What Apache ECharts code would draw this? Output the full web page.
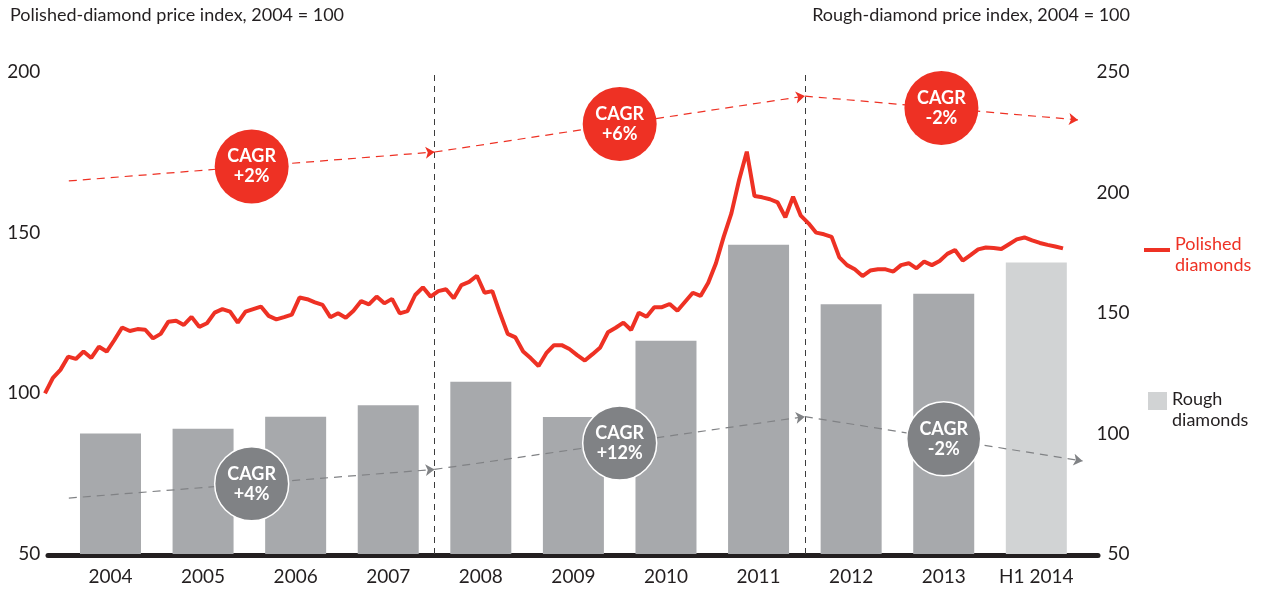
<!DOCTYPE html>
<html>
<head>
<meta charset="utf-8">
<title>Diamond price indices</title>
<script src="https://cdn.jsdelivr.net/npm/echarts@6/dist/echarts.min.js"></script>
<style>
  html, body { margin: 0; padding: 0; background: #fff; }
  #chart { width: 1266px; height: 589px; }
</style>
</head>
<body>
<div id="chart"></div>
<script>
// 年份 (柱形图类目)
var years = ['2004', '2005', '2006', '2007', '2008', '2009', '2010', '2011', '2012', '2013', 'H1 2014'];
// 毛坯钻石价格指数 (右轴)
var roughIndex = [100, 102, 107, 111.7, 121.5, 106.8, 138.5, 178.3, 153.6, 158, 171];
// 成品钻石价格指数 (左轴), 按月
var polishedIndex = [
  100.0, 104.7, 107.3, 111.4, 110.7, 113.0, 111.0, 114.5, 113.0, 116.6,
  120.5, 119.4, 120.0, 119.8, 117.1, 118.5, 122.3, 122.6, 121.3, 123.8,
  120.7, 121.8, 125.1, 126.2, 125.4, 122.0, 125.4, 126.2, 127.0, 124.1,
  123.0, 123.7, 124.5, 129.8, 129.3, 128.3, 127.5, 123.7, 124.9, 123.5,
  125.7, 128.7, 127.7, 130.1, 128.0, 129.4, 124.9, 125.6, 130.6, 133.0,
  130.1, 131.8, 132.4, 129.6, 133.7, 134.7, 136.6, 131.3, 131.8, 124.9,
  118.5, 117.4, 113.0, 110.9, 108.5, 112.5, 115.0, 115.0, 113.8, 111.9,
  110.2, 112.2, 114.3, 119.0, 120.4, 122.0, 119.7, 125.1, 123.8, 126.8,
  126.8, 127.8, 125.7, 128.5, 131.3, 130.3, 134.4, 140.5, 148.7, 156.0,
  166.4, 175.2, 161.4, 161.0, 160.4, 159.4, 154.8, 161.2, 155.3, 152.9,
  150.0, 149.5, 148.7, 142.3, 139.9, 138.6, 136.5, 138.2, 138.6, 138.6,
  137.9, 139.9, 140.5, 138.9, 141.0, 139.9, 141.2, 143.4, 144.6, 141.3,
  143.0, 144.8, 145.4, 145.2, 144.9, 146.4, 147.9, 148.5, 147.6, 146.8,
  146.2, 145.7, 145.1
];
// 趋势线端点 (x: 类目位置, y: 指数)
var polishedTrend = [[-0.45, 166.1], [3.5, 175.1], [7.5, 192.5], [10.45, 185.1]];
var roughTrend = [[-0.45, 73.2], [3.5, 85.1], [7.5, 107], [10.5, 88.6]];
var polishedCagr = ['+2%', '+6%', '-2%'];
var roughCagr = ['+4%', '+12%', '-2%'];
var periodBreaks = [3.5, 7.5];
var leftTicks = [50, 200, 50];   // min, max, interval
var rightTicks = [50, 250, 50];

var RED = '#ee3124';
var GREY = '#a7a9ac';
var LIGHT = '#d1d3d4';
var DARK = '#808285';
var INK = '#231f20';
var FONT = 'Lato';

function segments(points) {
  var out = [];
  for (var i = 0; i < points.length - 1; i++) {
    out.push({ coords: [points[i], points[i + 1]] });
  }
  return out;
}
function midpoints(points, labels) {
  var out = [];
  for (var i = 0; i < points.length - 1; i++) {
    out.push({
      value: [(points[i][0] + points[i + 1][0]) / 2, (points[i][1] + points[i + 1][1]) / 2],
      name: labels[i]
    });
  }
  return out;
}

var myChart = echarts.init(document.getElementById('chart'));

var option = {
  animation: false,
  textStyle: { fontFamily: FONT },
  title: [
    {
      text: 'Polished-diamond price index, 2004 = 100',
      left: 10, top: 6, padding: 0,
      textStyle: { fontSize: 18, fontWeight: 'normal', color: INK, fontFamily: FONT }
    },
    {
      text: 'Rough-diamond price index, 2004 = 100',
      right: 136, top: 6, padding: 0,
      textStyle: { fontSize: 18, fontWeight: 'normal', color: INK, fontFamily: FONT }
    }
  ],
  legend: [
    {
      data: ['Polished diamonds'],
      left: 1144, top: 224, padding: 0,
      icon: 'rect', itemWidth: 26, itemHeight: 4,
      formatter: function () { return '{s| }\n{a|Polished}\n{a|diamonds}'; },
      textStyle: {
        color: RED, fontFamily: FONT,
        rich: {
          s: { fontSize: 10, lineHeight: 10 },
          a: { fontSize: 18, lineHeight: 21, color: RED, fontFamily: FONT }
        }
      }
    },
    {
      data: [{ name: 'Rough diamonds', itemStyle: { color: LIGHT } }],
      left: 1148, top: 375, padding: 0,
      icon: 'rect', itemWidth: 19, itemHeight: 18,
      formatter: function () { return '{s| }\n{a|Rough}\n{a|diamonds}'; },
      textStyle: {
        color: INK, fontFamily: FONT,
        rich: {
          s: { fontSize: 10, lineHeight: 17 },
          a: { fontSize: 18, lineHeight: 21, color: INK, fontFamily: FONT }
        }
      }
    }
  ],
  grid: [
    { left: 64.2, right: 183.4, top: 72, bottom: 35 },   // 柱形图
    { left: 45, right: 203, top: 72, bottom: 35 },       // 折线
    { left: 48, right: 168, top: 72, bottom: 33.5 }      // 粗横轴
  ],
  xAxis: [
    {
      type: 'category', gridIndex: 0, data: years,
      axisLine: { show: false }, axisTick: { show: false },
      axisLabel: { interval: 0, fontSize: 19, color: INK, margin: 13, fontFamily: FONT }
    },
    { type: 'value', gridIndex: 0, min: -0.5, max: 10.5, show: false },
    { type: 'value', gridIndex: 1, min: 0, max: polishedIndex.length - 1, show: false },
    {
      type: 'value', gridIndex: 2, min: 0, max: 1,
      axisLine: { show: true, lineStyle: { color: INK, width: 5 } },
      axisTick: { show: false }, axisLabel: { show: false }, splitLine: { show: false }
    }
  ],
  yAxis: [
    {
      type: 'value', gridIndex: 0, position: 'left',
      min: leftTicks[0], max: leftTicks[1], interval: leftTicks[2],
      axisLine: { show: false }, axisTick: { show: false }, splitLine: { show: false },
      axisLabel: { fontSize: 19, color: INK, margin: 24, fontFamily: FONT }
    },
    {
      type: 'value', gridIndex: 0, position: 'right',
      min: rightTicks[0], max: rightTicks[1], interval: rightTicks[2],
      axisLine: { show: false }, axisTick: { show: false }, splitLine: { show: false },
      axisLabel: { fontSize: 19, color: INK, margin: 47, align: 'right', fontFamily: FONT }
    },
    { type: 'value', gridIndex: 1, min: 50, max: 200, show: false },
    { type: 'value', gridIndex: 2, min: 0, max: 1, show: false }
  ],
  series: [
    {
      name: 'Rough diamonds',
      type: 'bar',
      xAxisIndex: 0, yAxisIndex: 1,
      barWidth: 61,
      itemStyle: { color: GREY },
      data: roughIndex.map(function (v, i) {
        return years[i].indexOf('H1') === 0 ? { value: v, itemStyle: { color: LIGHT } } : v;
      }),
      z: 1
    },
    {
      // 分段虚线
      type: 'lines',
      coordinateSystem: 'cartesian2d',
      xAxisIndex: 1, yAxisIndex: 1,
      symbol: 'none',
      lineStyle: { color: '#3c3c3c', width: 1, type: [6, 5], opacity: 1 },
      data: periodBreaks.map(function (x) { return { coords: [[x, rightTicks[0]], [x, rightTicks[1]]] }; }),
      z: 2
    },
    {
      type: 'lines',
      coordinateSystem: 'cartesian2d',
      xAxisIndex: 1, yAxisIndex: 0,
      symbol: ['none', 'arrow'], symbolSize: 9,
      lineStyle: { color: RED, width: 1.2, type: [8, 6], opacity: 1 },
      data: segments(polishedTrend),
      z: 3
    },
    {
      type: 'lines',
      coordinateSystem: 'cartesian2d',
      xAxisIndex: 1, yAxisIndex: 1,
      symbol: ['none', 'arrow'], symbolSize: 9,
      lineStyle: { color: DARK, width: 1.2, type: [8, 6], opacity: 1 },
      data: segments(roughTrend),
      z: 3
    },
    {
      name: 'Polished diamonds',
      type: 'line',
      xAxisIndex: 2, yAxisIndex: 2,
      showSymbol: false, symbol: 'none',
      lineStyle: { color: RED, width: 4 },
      itemStyle: { color: RED },
      data: polishedIndex.map(function (v, i) { return [i, v]; }),
      z: 4
    },
    {
      type: 'scatter',
      xAxisIndex: 1, yAxisIndex: 0,
      symbolSize: 74,
      itemStyle: { color: RED, opacity: 1 },
      label: {
        show: true, position: 'inside',
        formatter: function (p) { return 'CAGR\n' + p.name; },
        color: '#fff', fontSize: 18, fontWeight: 'bold', lineHeight: 20, fontFamily: FONT
      },
      data: midpoints(polishedTrend, polishedCagr),
      z: 5
    },
    {
      type: 'scatter',
      xAxisIndex: 1, yAxisIndex: 1,
      symbolSize: 74,
      itemStyle: { color: DARK, borderColor: '#fff', borderWidth: 1.5, opacity: 1 },
      label: {
        show: true, position: 'inside',
        formatter: function (p) { return 'CAGR\n' + p.name; },
        color: '#fff', fontSize: 18, fontWeight: 'bold', lineHeight: 20, fontFamily: FONT
      },
      data: midpoints(roughTrend, roughCagr),
      z: 5
    }
  ]
};

myChart.setOption(option);
</script>
</body>
</html>
